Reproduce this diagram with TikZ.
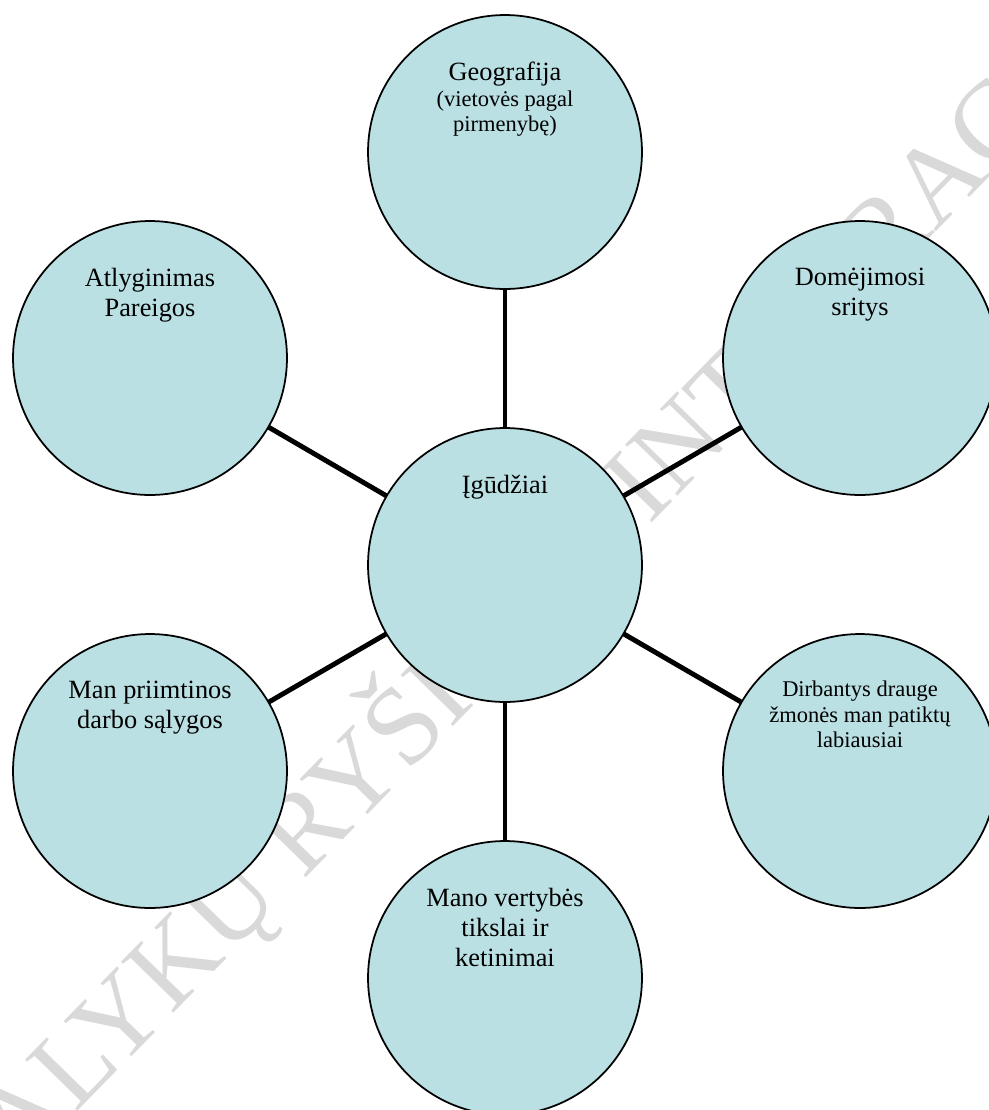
\documentclass[tikz,border=0pt]{standalone}
\usepackage{fontspec}
\setmainfont{Liberation Serif}
\definecolor{bubble}{RGB}{186,224,227}
\newcommand\bigf{\fontsize{15}{17}\selectfont}
\newcommand\smf{\fontsize{12.8}{14.5}\selectfont}
\tikzset{
	bub/.style={circle, draw, line width=1pt, fill=bubble, minimum size=5.48cm, inner sep=0pt, outer sep=0pt},
	txt/.style={align=center, inner sep=0pt, anchor=north},
	link/.style={line width=2.8pt}
}
\begin{document}
\begin{tikzpicture}[line join=round, x=0.02cm, y=-0.02cm]
	\useasboundingbox (0,0) rectangle (989,1110);
	
	\node[rotate=45.7, anchor=base west, text=black!15, font=\fontsize{63.5}{63.5}\selectfont] (wm) at (15,1176) {ALYKŲ RYŠIŲ IR INTEGRAC};
	
	\foreach \n/\x/\y in {ctr/505/565, geo/505/152, pay/150/358, dom/860/358, cond/150/771, ppl/860/771, val/505/978}
	\node[bub] (\n) at (\x,\y) {};
	
	\foreach \n in {geo, pay, dom, cond, ppl, val}
	\draw[link] (ctr) -- (\n);
	
	\foreach \n/\f/\t in {ctr/\bigf/{Įgūdžiai},
		geo/\smf/{\bigf Geografija\\(vietovės pagal\\pirmenybę)},
		pay/\bigf/{Atlyginimas\\Pareigos},
		dom/\bigf/{Domėjimosi\\sritys},
		cond/\bigf/{Man priimtinos\\darbo sąlygos},
		ppl/\smf/{Dirbantys drauge\\žmonės man patiktų\\labiausiai},
		val/\bigf/{Mano vertybės\\tikslai ir\\ketinimai}}
	\node[txt, font=\f] (t\n) at ([yshift=1.8cm]\n.center) {\t};
\end{tikzpicture}
\end{document}
